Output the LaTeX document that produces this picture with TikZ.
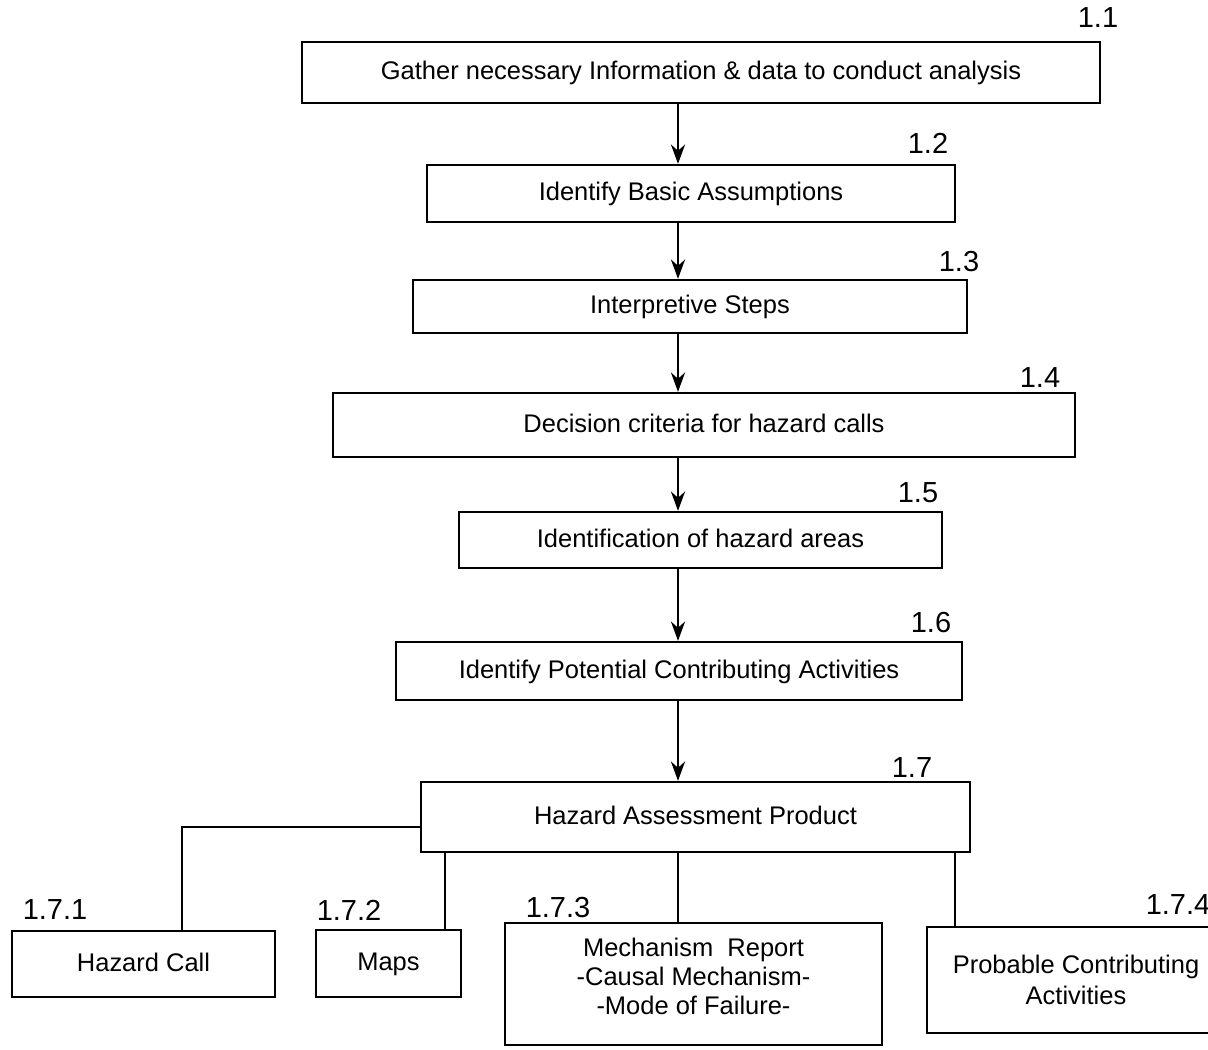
\documentclass[tikz,border=0pt]{standalone}
\usepackage{fontspec}
\setmainfont{Liberation Sans}
\usepackage{tikz}
\usetikzlibrary{arrows.meta,positioning}
\tikzset{
  stepbox/.style = {draw, line width=1.3pt, inner sep=0pt, align=center, font=\fontsize{14.5}{17}\selectfont},
  oneline/.style = {stepbox, text height=1.0em, text depth=0.2em},
  stepnum/.style = {inner sep=0pt, font=\fontsize{16.5}{18}\selectfont},
  steptext/.style = {inner sep=0pt, align=center, font=\fontsize{14.5}{16.5}\selectfont},
  flowarrow/.style = {-{Stealth[length=11pt, width=8pt]}, line width=1.4pt},
  branch/.style = {line width=1.3pt}
}

\begin{document}
\begin{tikzpicture}
      \useasboundingbox (0,0) rectangle (24.16,-20.98);
      \coordinate (spine) at (13.56,0);

      \node [oneline, minimum width=15.96cm, minimum height=1.22cm] (b1) at (14.02,-1.45) {Gather necessary Information \& data to conduct analysis};
      \node [oneline, minimum width=10.56cm, minimum height=1.14cm] (b2) at (13.82,-3.87) {Identify Basic Assumptions};
      \node [oneline, minimum width=11.08cm, minimum height=1.06cm] (b3) at (13.80,-6.13) {Interpretive Steps};
      \node [oneline, minimum width=14.84cm, minimum height=1.28cm] (b4) at (14.08,-8.50) {Decision criteria for hazard calls};
      \node [oneline, minimum width=9.66cm, minimum height=1.12cm] (b5) at (14.01,-10.80) {Identification of hazard areas};
      \node [oneline, minimum width=11.32cm, minimum height=1.16cm] (b6) at (13.58,-13.42) {Identify Potential Contributing Activities};
      \node [oneline, minimum width=10.98cm, minimum height=1.40cm] (b7) at (13.91,-16.34) {Hazard Assessment Product};

      \node [oneline, minimum width=5.26cm, minimum height=1.32cm] (b71) at (2.87,-19.28) {Hazard Call};
      \node [oneline, minimum width=2.90cm, minimum height=1.34cm] (b72) at (7.77,-19.27) {Maps};
      \node [stepbox, minimum width=7.54cm, minimum height=2.44cm] (b73) at (13.87,-19.68) {};
      \node [steptext, below=0.32cm of b73.north] (t73) {Mechanism\ \ Report\\-Causal Mechanism-\\-Mode of Failure-};
      \node [stepbox, minimum width=5.96cm, minimum height=2.12cm, font=\fontsize{14.5}{17.5}\selectfont] (b74) at (21.52,-19.60) {Probable Contributing\\Activities};

      \node [stepnum] (n1) at (21.96,-0.36) {1.1};
      \node [stepnum] (n2) at (18.56,-2.86) {1.2};
      \node [stepnum] (n3) at (19.18,-5.24) {1.3};
      \node [stepnum] (n4) at (20.80,-7.56) {1.4};
      \node [stepnum] (n5) at (18.36,-9.86) {1.5};
      \node [stepnum] (n6) at (18.62,-12.46) {1.6};
      \node [stepnum] (n7) at (18.24,-15.36) {1.7};
      \node [stepnum] (n71) at (1.10,-18.20) {1.7.1};
      \node [stepnum] (n72) at (6.98,-18.20) {1.7.2};
      \node [stepnum] (n73) at (11.16,-18.16) {1.7.3};
      \node [stepnum] (n74) at (23.56,-18.10) {1.7.4};

      \draw [flowarrow] (b1.south -| spine) -- (b2.north -| spine);
      \draw [flowarrow] (b2.south -| spine) -- (b3.north -| spine);
      \draw [flowarrow] (b3.south -| spine) -- (b4.north -| spine);
      \draw [flowarrow] (b4.south -| spine) -- (b5.north -| spine);
      \draw [flowarrow] (b5.south -| spine) -- (b6.north -| spine);
      \draw [flowarrow] (b6.south -| spine) -- (b7.north -| spine);

      \draw [branch] ([yshift=-0.2cm]b7.west) -| ([xshift=0.77cm]b71.north);
      \draw [branch] ([xshift=1.13cm]b72.north) -- ([xshift=1.13cm]b72.north |- b7.south);
      \draw [branch] (b7.south -| spine) -- (b73.north -| spine);
      \draw [branch] ([xshift=-2.42cm]b74.north) -- ([xshift=-2.42cm]b74.north |- b7.south);
    \end{tikzpicture}
\end{document}
